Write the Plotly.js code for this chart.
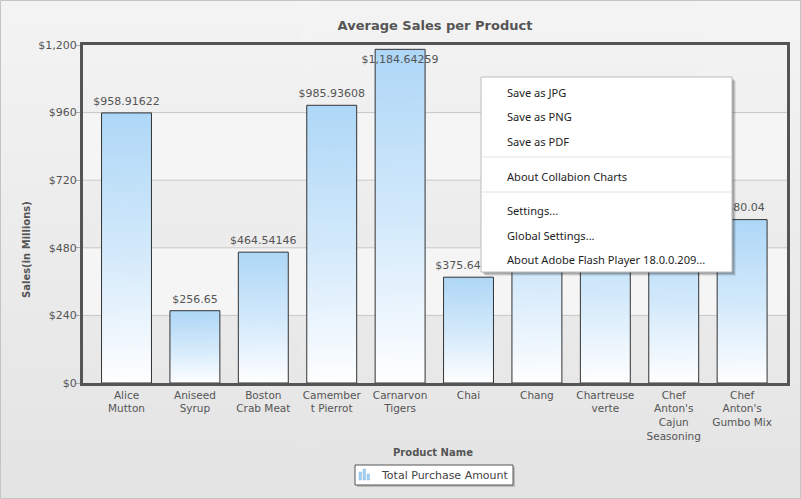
<!DOCTYPE html>
<html><head><meta charset="utf-8">
<script src="https://cdn.plot.ly/plotly-3.0.1.min.js"></script>
<style>html,body{margin:0;padding:0;background:#ececec;} #chart{width:801px;height:499px;}</style>
</head><body><div id="chart"></div>
<script>
// ---- data ----
const categories = ["Alice Mutton","Aniseed Syrup","Boston Crab Meat","Camembert Pierrot","Carnarvon Tigers","Chai","Chang","Chartreuse verte","Chef Anton's Cajun Seasoning","Chef Anton's Gumbo Mix"];
const tickLabels = ["Alice<br>Mutton","Aniseed<br>Syrup","Boston<br>Crab Meat","Camember<br>t Pierrot","Carnarvon<br>Tigers","Chai","Chang","Chartreuse<br>verte","Chef<br>Anton's<br>Cajun<br>Seasoning","Chef<br>Anton's<br>Gumbo Mix"];
// Chang, Chartreuse verte and Chef Anton's Cajun Seasoning are hidden behind the menu: estimated
const purchaseAmount = [958.91622, 256.65, 464.54146, 985.93608, 1184.64259, 375.64286, 762.48, 637.3, 584.3, 580.04];
const yTickValues = [0, 240, 480, 720, 960, 1200];
const yTickLabels = ["$0", "$240", "$480", "$720", "$960", "$1,200"];
const seriesName = "Total Purchase Amount";
const menuItems = ["Save as JPG", "Save as PNG", "Save as PDF", "About Collabion Charts", "Settings...", "Global Settings...", "About Adobe Flash Player 18.0.0.209..."];

// ---- geometry helpers ----
const W = 801, H = 499, ML = 83, MR = 14, MT = 45, MB = 116;
const PW = W - ML - MR, PH = H - MT - MB;
const fx = px => (px - ML) / PW;
const fy = py => (H - MB - py) / PH;
const xRange = [-0.636, 9.656];
const yRange = [0, 1200];
const barWidth = 0.73;

function fmt(v) {
  const s = String(v).split('.');
  return '$' + s[0].replace(/\B(?=(\d{3})+(?!\d))/g, ',') + (s[1] ? '.' + s[1] : '');
}
function gradientURL(stops, w, h) {
  const c = document.createElement('canvas');
  c.width = w; c.height = h;
  const g = c.getContext('2d');
  const gr = g.createLinearGradient(0, 0, 0, h);
  stops.forEach(s => gr.addColorStop(s[0], s[1]));
  g.fillStyle = gr; g.fillRect(0, 0, w, h);
  return c.toDataURL();
}
const barGrad = gradientURL([[0, '#aed7f7'], [0.5, '#d2e9fb'], [1, '#ffffff']], 4, 256);
const bgGrad = gradientURL([[0, '#f4f4f4'], [1, '#e4e4e4']], 4, 256);

const idx = categories.map((c, i) => i);

const bars = {
  type: 'bar', x: idx, y: purchaseAmount, width: barWidth, name: seriesName,
  marker: {color: 'rgba(0,0,0,0)', line: {color: '#333333', width: 1}},
  hoverinfo: 'skip', showlegend: false
};
const labels = {
  type: 'scatter', mode: 'markers+text', x: idx, y: purchaseAmount,
  marker: {size: 7, opacity: 0},
  text: purchaseAmount.map(fmt),
  textposition: purchaseAmount.map(v => v > yRange[1] * 0.95 ? 'bottom center' : 'top center'),
  textfont: {family: 'DejaVu Sans', size: 11, color: '#555555'},
  hoverinfo: 'skip', showlegend: false, cliponaxis: false
};

const images = [{
  source: bgGrad, xref: 'paper', yref: 'paper', x: fx(0), y: fy(0),
  sizex: W / PW, sizey: H / PH, xanchor: 'left', yanchor: 'top', sizing: 'stretch', layer: 'below'
}];
purchaseAmount.forEach((v, i) => images.push({
  source: barGrad, xref: 'x', yref: 'y', x: i, y: v, sizex: barWidth, sizey: v,
  xanchor: 'center', yanchor: 'top', sizing: 'stretch', layer: 'below'
}));

const shapes = [];
// alternating bands and grid lines
for (let k = 0; k < yTickValues.length - 1; k++) {
  if (k % 2 === 1) shapes.push({type: 'rect', xref: 'x', yref: 'y', x0: xRange[0], x1: xRange[1],
    y0: yTickValues[k], y1: yTickValues[k + 1], fillcolor: '#f5f5f5', line: {width: 0}, layer: 'below'});
}
yTickValues.slice(1, -1).forEach(t => shapes.push({type: 'line', xref: 'x', yref: 'y', x0: xRange[0], x1: xRange[1],
  y0: t, y1: t, line: {color: '#c8c8c8', width: 1}, layer: 'below'}));

// outer border
shapes.push({type: 'rect', xref: 'paper', yref: 'paper', x0: fx(0.5), x1: fx(800.5), y0: fy(0.5), y1: fy(498.5),
  line: {color: '#c4c4c4', width: 1}, fillcolor: 'rgba(0,0,0,0)', layer: 'above'});

// legend box
const lg = {x0: 355, x1: 513, y0: 465, y1: 485};
shapes.push({type: 'rect', xref: 'paper', yref: 'paper', x0: fx(lg.x0 + 2), x1: fx(lg.x1 + 2), y0: fy(lg.y0 + 2), y1: fy(lg.y1 + 2),
  fillcolor: 'rgba(0,0,0,0.18)', line: {width: 0}, layer: 'above'});
shapes.push({type: 'rect', xref: 'paper', yref: 'paper', x0: fx(lg.x0), x1: fx(lg.x1), y0: fy(lg.y0), y1: fy(lg.y1),
  fillcolor: '#ffffff', line: {color: '#555555', width: 1}, layer: 'above'});
[[359, 472], [363, 469], [367, 474]].forEach(b => shapes.push({type: 'rect', xref: 'paper', yref: 'paper',
  x0: fx(b[0]), x1: fx(b[0] + 2.5), y0: fy(b[1]), y1: fy(480), fillcolor: '#a5cff0', line: {color: '#8bbde6', width: 0.5}, layer: 'above'}));

// context menu
const mn = {x0: 481, x1: 732, y0: 77, y1: 272};
[[4, 0.08], [3, 0.12], [2, 0.16]].forEach(s => shapes.push({type: 'rect', xref: 'paper', yref: 'paper',
  x0: fx(mn.x0 + s[0]), x1: fx(mn.x1 + s[0]), y0: fy(mn.y0 + s[0]), y1: fy(mn.y1 + s[0]),
  fillcolor: 'rgba(0,0,0,' + s[1] + ')', line: {width: 0}, layer: 'above'}));
shapes.push({type: 'rect', xref: 'paper', yref: 'paper', x0: fx(mn.x0), x1: fx(mn.x1), y0: fy(mn.y0), y1: fy(mn.y1),
  fillcolor: '#ffffff', line: {color: '#bcbcbc', width: 1}, layer: 'above'});
[157, 192].forEach(y => shapes.push({type: 'line', xref: 'paper', yref: 'paper', x0: fx(mn.x0 + 1), x1: fx(mn.x1 - 1),
  y0: fy(y), y1: fy(y), line: {color: '#e2e2e2', width: 1}, layer: 'above'}));

const annotations = [];
annotations.push({xref: 'paper', yref: 'paper', x: fx(433), y: fy(452), text: '<b>Product Name</b>', showarrow: false,
  xanchor: 'center', yanchor: 'middle', font: {family: 'DejaVu Sans', size: 10, color: '#555555'}});
annotations.push({xref: 'paper', yref: 'paper', x: fx(26), y: fy(250), text: '<b>Sales(in Millions)</b>', showarrow: false,
  textangle: -90, xanchor: 'center', yanchor: 'middle', font: {family: 'DejaVu Sans', size: 10, color: '#555555'}});
annotations.push({xref: 'paper', yref: 'paper', x: fx(379), y: fy(475), text: seriesName, showarrow: false,
  xanchor: 'left', yanchor: 'middle', font: {family: 'DejaVu Sans', size: 11, color: '#444444'}});
const menuY = [93, 117, 141, 176, 211, 235, 259];
menuItems.forEach((t, i) => annotations.push({xref: 'paper', yref: 'paper', x: fx(505), y: fy(menuY[i]), text: t,
  showarrow: false, xanchor: 'left', yanchor: 'middle', font: {family: 'Noto Sans', size: 11.1, color: '#1e1e1e'}}));

const layout = {
  width: W, height: H, margin: {l: ML, r: MR, t: MT, b: MB, pad: 0},
  paper_bgcolor: '#ececec', plot_bgcolor: '#ffffff',
  font: {family: 'DejaVu Sans', size: 11, color: '#555555'},
  title: {text: '<b>Average Sales per Product</b>', font: {family: 'DejaVu Sans', size: 13, color: '#555555'},
    x: 0.5, xref: 'paper', xanchor: 'center', y: 1 - 25 / H, yref: 'container', yanchor: 'middle'},
  xaxis: {range: xRange, tickvals: idx, ticktext: tickLabels, showgrid: false, zeroline: false,
    showline: true, mirror: true, linecolor: '#555555', linewidth: 3, ticks: '',
    tickfont: {family: 'DejaVu Sans', size: 10.5, color: '#555555'}, fixedrange: true},
  yaxis: {range: yRange, tickvals: yTickValues, ticktext: yTickLabels, showgrid: false, zeroline: false,
    showline: true, mirror: true, linecolor: '#555555', linewidth: 3, ticks: 'outside', ticklen: 4, tickcolor: '#aaaaaa',
    ticklabelstandoff: -3,
    tickfont: {family: 'DejaVu Sans', size: 11, color: '#555555'}, fixedrange: true},
  showlegend: false, images: images, shapes: shapes, annotations: annotations, bargap: 0
};
Plotly.newPlot('chart', [bars, labels], layout, {displayModeBar: false, staticPlot: true});
</script></body></html>
